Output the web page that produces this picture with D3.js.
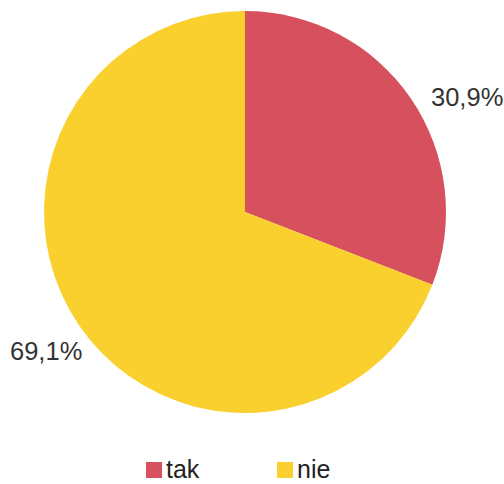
<!DOCTYPE html>
<html><head><meta charset="utf-8">
<script src="https://cdn.jsdelivr.net/npm/d3@7"></script>
<style>html,body{margin:0;padding:0;background:#fff;}svg{display:block;}</style>
</head><body>
<script>
const categories = ["tak", "nie"];
const values = [30.9, 69.1];
const labels = ["30,9%", "69,1%"];
const colors = ["#d6515d", "#fad02e"];

const W = 504, H = 484;
const cx = 245, cy = 212, R = 201;
const svg = d3.select("body").append("svg").attr("width", W).attr("height", H);
const font = "'Liberation Sans', Arial, sans-serif";

const pie = d3.pie().sort(null).value(d => d)(values);
const arc = d3.arc().innerRadius(0).outerRadius(R);
const g = svg.append("g").attr("transform", `translate(${cx},${cy})`);
g.selectAll("path").data(pie).join("path")
  .attr("d", arc).attr("fill", (d, i) => colors[i]);

// labels outside
const labelPos = [{x: 431, y: 106}, {x: 10, y: 360}];
svg.selectAll("text.lbl").data(labels).join("text")
  .attr("class", "lbl")
  .attr("x", (d, i) => labelPos[i].x).attr("y", (d, i) => labelPos[i].y)
  .attr("font-family", font).attr("font-size", 25.5).attr("fill", "#333")
  .text(d => d);

// legend
const leg = [{x: 146}, {x: 277}];
const lg = svg.selectAll("g.leg").data(categories).join("g").attr("class", "leg")
  .attr("transform", (d, i) => `translate(${leg[i].x},462)`);
lg.append("rect").attr("width", 16).attr("height", 16).attr("fill", (d, i) => colors[i]);
lg.append("text").attr("x", 20).attr("y", 16)
  .attr("font-family", font).attr("font-size", 25).attr("fill", "#222")
  .text(d => d);
</script>
</body></html>
